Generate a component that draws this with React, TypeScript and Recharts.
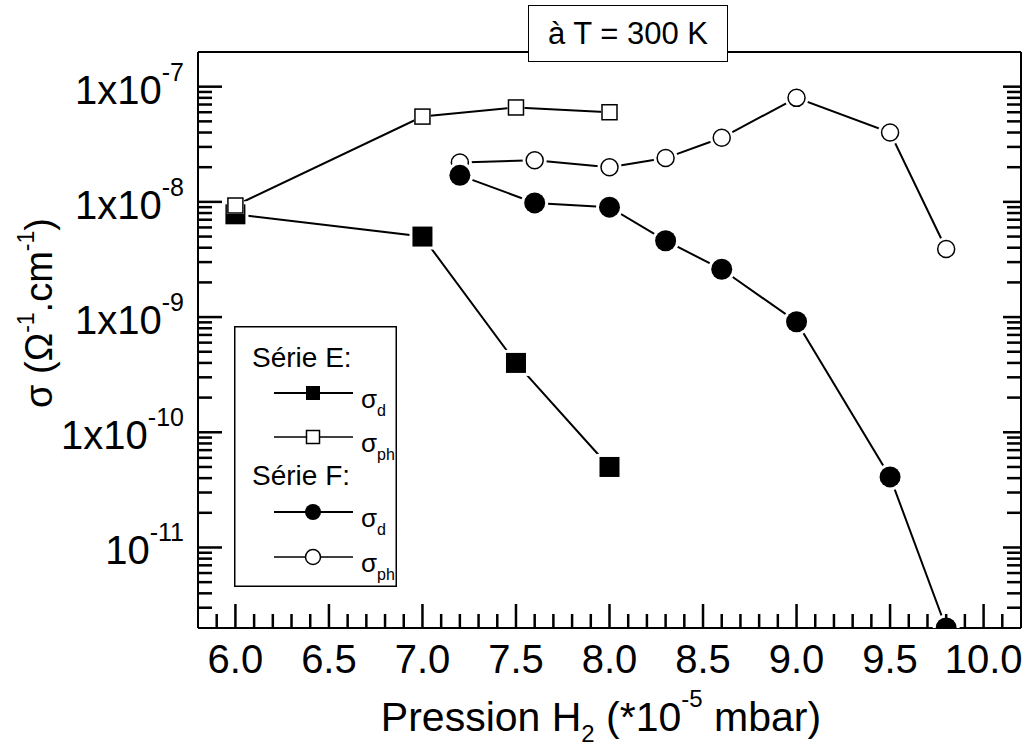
import React from "react";
import { LineChart, Line, XAxis, YAxis, Legend } from "recharts";

// axis ticks
const pressureTicks = [6.0, 6.5, 7.0, 7.5, 8.0, 8.5, 9.0, 9.5, 10.0];
const sigmaDecades = [1e-11, 1e-10, 1e-9, 1e-8, 1e-7];
const sigmaMantissa = ["10", "1x10", "1x10", "1x10", "1x10"];
const sigmaExponent = ["-11", "-10", "-9", "-8", "-7"];

// Série E
const serieEPressure = [6.0, 7.0, 7.5, 8.0];
const serieESigmaD = [7.8e-9, 5e-9, 4e-10, 5e-11];
const serieESigmaPh = [9.3e-9, 5.5e-8, 6.6e-8, 6e-8];

// Série F
const serieFPressure = [7.2, 7.6, 8.0, 8.3, 8.6, 9.0, 9.5, 9.8];
const serieFSigmaD = [1.7e-8, 9.8e-9, 9e-9, 4.6e-9, 2.6e-9, 9.1e-10, 4.1e-11, 2e-12];
const serieFSigmaPh = [2.2e-8, 2.3e-8, 2e-8, 2.4e-8, 3.6e-8, 8e-8, 4e-8, 3.9e-9];

const X_DOMAIN: [number, number] = [5.8, 10.2];
const Y_DOMAIN: [number, number] = [2e-12, 2e-7];

const FONT = "'Liberation Sans', Arial, Helvetica, sans-serif";

// minor + major tick positions
const xTicks: number[] = [];
for (let i = 59; i <= 101; i++) xTicks.push(i / 10);

const yTicks: number[] = [];
for (let e = -12; e <= -7; e++) {
  for (let m = 1; m <= 9; m++) {
    const v = m * Math.pow(10, e);
    if (v > Y_DOMAIN[0] * 1.001 && v < Y_DOMAIN[1] * 0.999) yTicks.push(v);
  }
}

const toRows = (xs: number[], ys: number[]) => xs.map((p, i) => ({ p, s: ys[i] }));

const isMajorX = (v: number) =>
  pressureTicks.some((t) => Math.abs(t - v) < 1e-6);
const decadeIndex = (v: number) =>
  sigmaDecades.findIndex((d) => Math.abs(Math.log10(d) - Math.log10(v)) < 1e-6);
const isMajorY = (v: number) =>
  Math.abs(Math.log10(v) - Math.round(Math.log10(v))) < 1e-6;

// inward tick mark drawn as a thin filled rect
const hMark = (x: number, y: number, len: number) => (
  <rect x={len > 0 ? x : x + len} y={y - 1.25} width={Math.abs(len)} height={2.5} fill="#000" />
);
const vMark = (x: number, y: number, len: number) => (
  <rect x={x - 1.25} y={len > 0 ? y : y + len} width={2.5} height={Math.abs(len)} fill="#000" />
);

function BottomTick(props: any) {
  const x = Number(props.x);
  const y = Number(props.y);
  const v = Number(props.payload.value);
  const major = isMajorX(v);
  return (
    <g>
      {vMark(x, y, major ? -24 : -14)}
      {major && (
        <text x={x} y={y + 45} textAnchor="middle" fontSize={40} fill="#000">
          {v.toFixed(1)}
        </text>
      )}
    </g>
  );
}

function TopTick(props: any) {
  const v = Number(props.payload.value);
  return vMark(Number(props.x), Number(props.y), isMajorX(v) ? 16 : 14);
}

function LeftTick(props: any) {
  const x = Number(props.x);
  const y = Number(props.y);
  const v = Number(props.payload.value);
  const idx = decadeIndex(v);
  return (
    <g>
      {hMark(x, y, isMajorY(v) ? 24 : 14)}
      {idx >= 0 && (
        <text x={x - 14} y={y + 17} textAnchor="end" fontSize={40} fill="#000">
          {sigmaMantissa[idx]}
          <tspan dy={-23} fontSize={25}>
            {sigmaExponent[idx]}
          </tspan>
        </text>
      )}
    </g>
  );
}

function RightTick(props: any) {
  const v = Number(props.payload.value);
  return hMark(Number(props.x), Number(props.y), isMajorY(v) ? -18 : -14);
}

// markers with a white halo, like the original plot
function FilledSquare(p: any) {
  const { cx, cy, index } = p;
  if (cx == null || cy == null) return <g key={index} />;
  return (
    <g key={index}>
      <rect x={cx - 13} y={cy - 13} width={26} height={26} fill="#fff" />
      <rect x={cx - 10} y={cy - 10} width={20} height={20} fill="#000" />
    </g>
  );
}

function OpenSquare(p: any) {
  const { cx, cy, index } = p;
  if (cx == null || cy == null) return <g key={index} />;
  return (
    <g key={index}>
      <rect x={cx - 8.5} y={cy - 8.5} width={17} height={17} fill="#fff" />
      <rect x={cx - 7.5} y={cy - 7.5} width={15} height={15} fill="#fff" stroke="#000" strokeWidth={1.5} />
    </g>
  );
}

function FilledCircle(p: any) {
  const { cx, cy, index } = p;
  if (cx == null || cy == null) return <g key={index} />;
  return (
    <g key={index}>
      <circle cx={cx} cy={cy} r={13.5} fill="#fff" />
      <circle cx={cx} cy={cy} r={10.5} fill="#000" />
    </g>
  );
}

function OpenCircle(p: any) {
  const { cx, cy, index } = p;
  if (cx == null || cy == null) return <g key={index} />;
  return (
    <g key={index}>
      <circle cx={cx} cy={cy} r={12} fill="#fff" />
      <circle cx={cx} cy={cy} r={8.5} fill="#fff" stroke="#000" strokeWidth={1.5} />
    </g>
  );
}

function XTitle() {
  return (
    <text x={601} y={731} textAnchor="middle" fontSize={41} fill="#000">
      Pression H
      <tspan dy={11} fontSize={24}>2</tspan>
      <tspan dy={-11}> (*10</tspan>
      <tspan dy={-24} fontSize={24}>-5</tspan>
      <tspan dy={24}> mbar)</tspan>
    </text>
  );
}

function YTitle() {
  return (
    <text transform="rotate(-90)" x={-313} y={52} textAnchor="middle" fontSize={38} fill="#000">
      σ (Ω
      <tspan dy={-18} fontSize={23}>-1</tspan>
      <tspan dy={18}>.cm</tspan>
      <tspan dy={-18} fontSize={23}>-1</tspan>
      <tspan dy={18}>)</tspan>
    </text>
  );
}

function LegendBox() {
  const row = (y: number, marker: React.ReactNode, sub: string, thick: number) => (
    <g>
      <line x1={40} x2={119} y1={y} y2={y} stroke="#000" strokeWidth={thick} />
      {marker}
      <text x={127} y={y + 15} fontSize={26} fill="#000">
        σ<tspan dy={8} fontSize={16}>{sub}</tspan>
      </text>
    </g>
  );
  return (
    <svg width={163} height={261} style={{ display: "block", overflow: "visible", fontFamily: FONT }}>
      <rect x={0.75} y={0.75} width={161.5} height={259.5} fill="#fff" stroke="#000" strokeWidth={1.5} />
      <text x={18} y={41} fontSize={28} fill="#000">Série E:</text>
      {row(67, <rect x={72} y={60} width={14} height={14} fill="#000" />, "d", 2)}
      {row(111, <rect x={72.5} y={104.5} width={13} height={13} fill="#fff" stroke="#000" strokeWidth={1.5} />, "ph", 1.5)}
      <text x={18} y={159} fontSize={28} fill="#000">Série F:</text>
      {row(186, <circle cx={79} cy={186} r={8} fill="#000" />, "d", 2)}
      {row(231, <circle cx={79} cy={231} r={7.5} fill="#fff" stroke="#000" strokeWidth={1.5} />, "ph", 1.5)}
    </svg>
  );
}

const axisLine = { stroke: "#000", strokeWidth: 2 };

export default function App() {
  return (
    <div
      style={{
        position: "absolute",
        left: 0,
        top: 0,
        width: 1026,
        height: 747,
        background: "#fff",
        fontFamily: FONT,
      }}
    >
      <LineChart width={1026} height={747} margin={{ top: 22, right: 0, bottom: 0, left: 0 }}>
        <XAxis
          dataKey="p"
          type="number"
          domain={X_DOMAIN}
          allowDataOverflow
          ticks={xTicks}
          interval={0}
          tickLine={false}
          tickSize={0}
          tickMargin={0}
          tick={<BottomTick />}
          height={119}
          axisLine={axisLine}
          label={<XTitle />}
        />
        <XAxis
          xAxisId="top"
          orientation="top"
          type="number"
          domain={X_DOMAIN}
          allowDataOverflow
          ticks={xTicks}
          interval={0}
          tickLine={false}
          tickSize={0}
          tickMargin={0}
          tick={<TopTick />}
          height={30}
          axisLine={axisLine}
        />
        <YAxis
          type="number"
          scale="log"
          domain={Y_DOMAIN}
          allowDataOverflow
          ticks={yTicks}
          interval={0}
          tickLine={false}
          tickSize={0}
          tickMargin={0}
          tick={<LeftTick />}
          width={198}
          axisLine={axisLine}
          label={<YTitle />}
        />
        <YAxis
          yAxisId="right"
          orientation="right"
          type="number"
          scale="log"
          domain={Y_DOMAIN}
          allowDataOverflow
          ticks={yTicks}
          interval={0}
          tickLine={false}
          tickSize={0}
          tickMargin={0}
          tick={<RightTick />}
          width={5}
          axisLine={axisLine}
        />
        <Line
          data={toRows(serieEPressure, serieESigmaD)}
          dataKey="s"
          stroke="#000"
          strokeWidth={2}
          dot={FilledSquare}
          isAnimationActive={false}
        />
        <Line
          data={toRows(serieEPressure, serieESigmaPh)}
          dataKey="s"
          stroke="#000"
          strokeWidth={2}
          dot={OpenSquare}
          isAnimationActive={false}
        />
        <Line
          data={toRows(serieFPressure, serieFSigmaPh)}
          dataKey="s"
          stroke="#000"
          strokeWidth={2}
          dot={OpenCircle}
          isAnimationActive={false}
        />
        <Line
          data={toRows(serieFPressure, serieFSigmaD)}
          dataKey="s"
          stroke="#000"
          strokeWidth={2}
          dot={FilledCircle}
          isAnimationActive={false}
        />
        <Legend
          layout="vertical"
          align="center"
          verticalAlign="middle"
          content={() => <LegendBox />}
          wrapperStyle={{ left: 234, top: 326, width: 163, height: 261 }}
        />
      </LineChart>
      <div
        style={{
          position: "absolute",
          left: 528,
          top: 5,
          width: 200,
          height: 57,
          boxSizing: "border-box",
          border: "1.5px solid #000",
          background: "#fff",
          display: "flex",
          alignItems: "center",
          justifyContent: "center",
          fontSize: 31,
          color: "#000",
        }}
      >
        à T = 300 K
      </div>
    </div>
  );
}
